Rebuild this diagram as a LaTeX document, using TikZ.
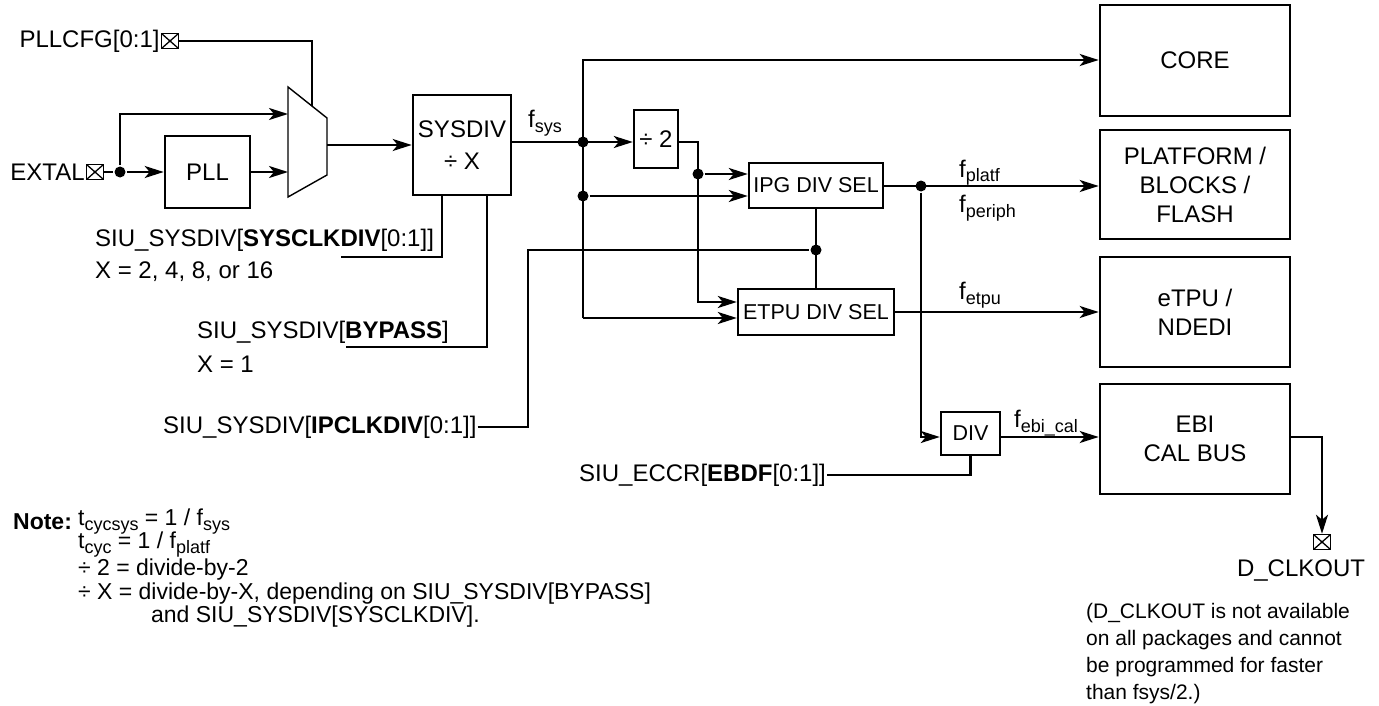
\documentclass[tikz,border=0pt]{standalone}
\usepackage{fontspec}
\setmainfont{Liberation Sans}
\usetikzlibrary{arrows.meta}
\newcommand{\sbs}[1]{\raisebox{-5pt}{\fontsize{18}{18}\selectfont #1}}
\begin{document}
\begin{tikzpicture}[x=1pt,y=-1pt, line width=2.3pt,
  every node/.style={font=\fontsize{24}{29}\selectfont, inner sep=0pt},
  blk/.style={draw, line width=2.6pt, align=center},
  sblk/.style={draw, line width=2.4pt, align=center, font=\fontsize{21.5}{25}\selectfont},
  arr/.style={-{Stealth[length=19pt,width=12pt,inset=5pt]}},
  dot/.style={circle, fill, minimum size=11pt, inner sep=0pt},
  pin/.style={draw, line width=1.5pt, minimum width=17pt, minimum height=15pt,
    path picture={\draw[line width=1.3pt] (path picture bounding box.north west) -- (path picture bounding box.south east)
      (path picture bounding box.north east) -- (path picture bounding box.south west);}},
  txt/.style={anchor=west},
  nt/.style={anchor=west, font=\fontsize{23}{27}\selectfont},
  sm/.style={anchor=west, font=\fontsize{21}{27}\selectfont},
]
\useasboundingbox (0,0) rectangle (1379,706);

% ---------- inputs ----------
\node[pin] (pllcfgP) at (170,41) {};
\node[anchor=east] (pllcfgT) at (pllcfgP.west) {PLLCFG[0:1]};
\node[pin] (extalP) at (95,172) {};
\node[anchor=east] (extalT) at (extalP.west) {EXTAL};
\node[dot] (dotE) at (120,172) {};

\node[blk, minimum width=85pt, minimum height=72pt] (pll) at (207.5,172) {PLL};

% mux
\coordinate (m1) at (288,87);
\coordinate (m2) at (327,118);
\coordinate (m3) at (327,175);
\coordinate (m4) at (288,197);
\draw[line width=1.4pt] (m1) -- (m2) -- (m3) -- (m4) -- cycle;
\coordinate (muxin1) at (288,114);
\coordinate (muxin2) at (288,172);
\coordinate (muxout) at (327,145);
\coordinate (muxtop) at (312,106);

\node[blk, minimum width=98pt, minimum height=100pt] (sysdiv) at (462,145) {SYSDIV\\[3pt]÷ X};

\draw (extalP.east) -- (dotE);
\draw[arr] (dotE) -- (pll.west);
\draw[arr] (dotE) |- (muxin1);
\draw[arr] (pll.east) -- (muxin2);
\draw (pllcfgP.east) -| (muxtop);
\draw[arr] (muxout) -- (sysdiv.west |- muxout);

% ---------- SYSDIV controls ----------
\node[txt] (sysclkT) at (94,240) {SIU\_SYSDIV[\textbf{SYSCLKDIV}[0:1]]};
\node[txt] (sysclkX) at (94,272) {X = 2, 4, 8, or 16};
\node[txt] (bypT) at (196,332) {SIU\_SYSDIV[\textbf{BYPASS}]};
\node[txt] (bypX) at (196,364) {X = 1};
\node[txt] (ipclkT) at (162,427) {SIU\_SYSDIV[\textbf{IPCLKDIV}[0:1]]};

\coordinate (sdA) at (442,257);
\coordinate (sysclkL) at (341,257);
\coordinate (sdB) at (487,347);
\coordinate (bypL) at (346,347);
\draw (sysdiv.south -| sdA) -- (sdA) -- (sysclkL);
\draw (sysdiv.south -| sdB) -- (sdB) -- (bypL);

% ---------- f_sys distribution ----------
\node[anchor=base west] (fsysL) at (527,128) {f\sbs{sys}};
\node[dot] (fs1) at (583,142) {};
\node[dot] (fs2) at (583,196) {};
\coordinate (fsTop) at (583,60);
\coordinate (fsBot) at (583,318);

\node[blk, line width=2.4pt, minimum width=44pt, minimum height=58pt] (div2) at (656,139) {÷ 2};
\node[dot] (d2) at (698,174) {};
\coordinate (d2b) at (698,302);

\node[sblk, minimum width=134pt, minimum height=45pt] (ipg) at (816,185.5) {IPG DIV SEL};
\node[sblk, minimum width=156pt, minimum height=46pt] (etpu) at (816,312) {ETPU DIV SEL};
\node[dot] (ipgd) at (816,250) {};
\coordinate (ipA) at (528,250);

% right-hand blocks
\node[blk, minimum width=190pt, minimum height=111pt] (core) at (1195,60.5) {CORE};
\node[blk, minimum width=190pt, minimum height=109pt] (plat) at (1195,184.5) {PLATFORM /\\BLOCKS /\\FLASH};
\node[blk, minimum width=190pt, minimum height=110pt] (etpub) at (1195,312) {eTPU /\\NDEDI};
\node[blk, minimum width=190pt, minimum height=110pt] (ebi) at (1195,439) {EBI\\CAL BUS};

\node[dot] (pl) at (921,186) {};
\coordinate (dv) at (921,437);
\node[sblk, minimum width=59pt, minimum height=43pt] (div) at (970.5,433.5) {DIV};

\draw[arr] (sysdiv.east |- fs1) -- (div2.west |- fs1);
\draw[arr] (fsBot) -- (fsTop) -- (fsTop -| core.west);
\draw[arr] (fsBot) -- (fsBot -| etpu.west);
\draw[arr] (fs2) -- (fs2 -| ipg.west);
\draw[arr] (div2.east |- fs1) -| (d2b) -- (d2b -| etpu.west);
\draw[arr] (d2) -- (d2 -| ipg.west);
\draw (ipg.south) -- (etpu.north);
\draw (ipclkT.east) -- (ipclkT.east -| ipA) -- (ipA) -- (ipgd);

\draw[arr] (ipg.east |- pl) -- (pl -| plat.west);
\draw[arr] (pl) -- (dv) -- (dv -| div.west);
\draw[arr] (div.east |- dv) -- (dv -| ebi.west);
\draw[arr] (etpu.east) -- (etpu.east -| etpub.west);

\node[anchor=base west] (fplatf) at (958,177) {f\sbs{platf}};
\node[anchor=base west] (fperiph) at (958,212) {f\sbs{periph}};
\node[anchor=base west] (fetpu) at (958,299) {f\sbs{etpu}};
\node[anchor=base west] (febi) at (1013,427) {f\sbs{ebi\_cal}};

\node[txt] (eccrT) at (578,475) {SIU\_ECCR[\textbf{EBDF}[0:1]]};
\draw (eccrT.east) -| (div.south);

% D_CLKOUT
\node[pin] (dclkP) at (1322,542) {};
\node[anchor=north] (dclkT) at (1301,559) {D\_CLKOUT};
\coordinate (eo) at (1321,437);
\draw[arr] (ebi.east |- eo) -| (dclkP.north);

\node[sm] (p1) at (1085,613) {(D\_CLKOUT is not available};
\node[sm] (p2) at (1085,640) {on all packages and cannot};
\node[sm] (p3) at (1085,667) {be programmed for faster};
\node[sm] (p4) at (1085,694) {than fsys/2.)};

% Note
\node[nt] (noteH) at (12,522) {\textbf{Note:}};
\node[nt] (n1) at (77,522) {t\sbs{cycsys} = 1 / f\sbs{sys}};
\node[nt] (n2) at (77,545) {t\sbs{cyc} = 1 / f\sbs{platf}};
\node[nt] (n3) at (77,570) {÷ 2 = divide-by-2};
\node[nt] (n4) at (77,594) {÷ X = divide-by-X, depending on SIU\_SYSDIV[BYPASS]};
\node[nt] (n5) at (150,617) {and SIU\_SYSDIV[SYSCLKDIV].};
\end{tikzpicture}
\end{document}
